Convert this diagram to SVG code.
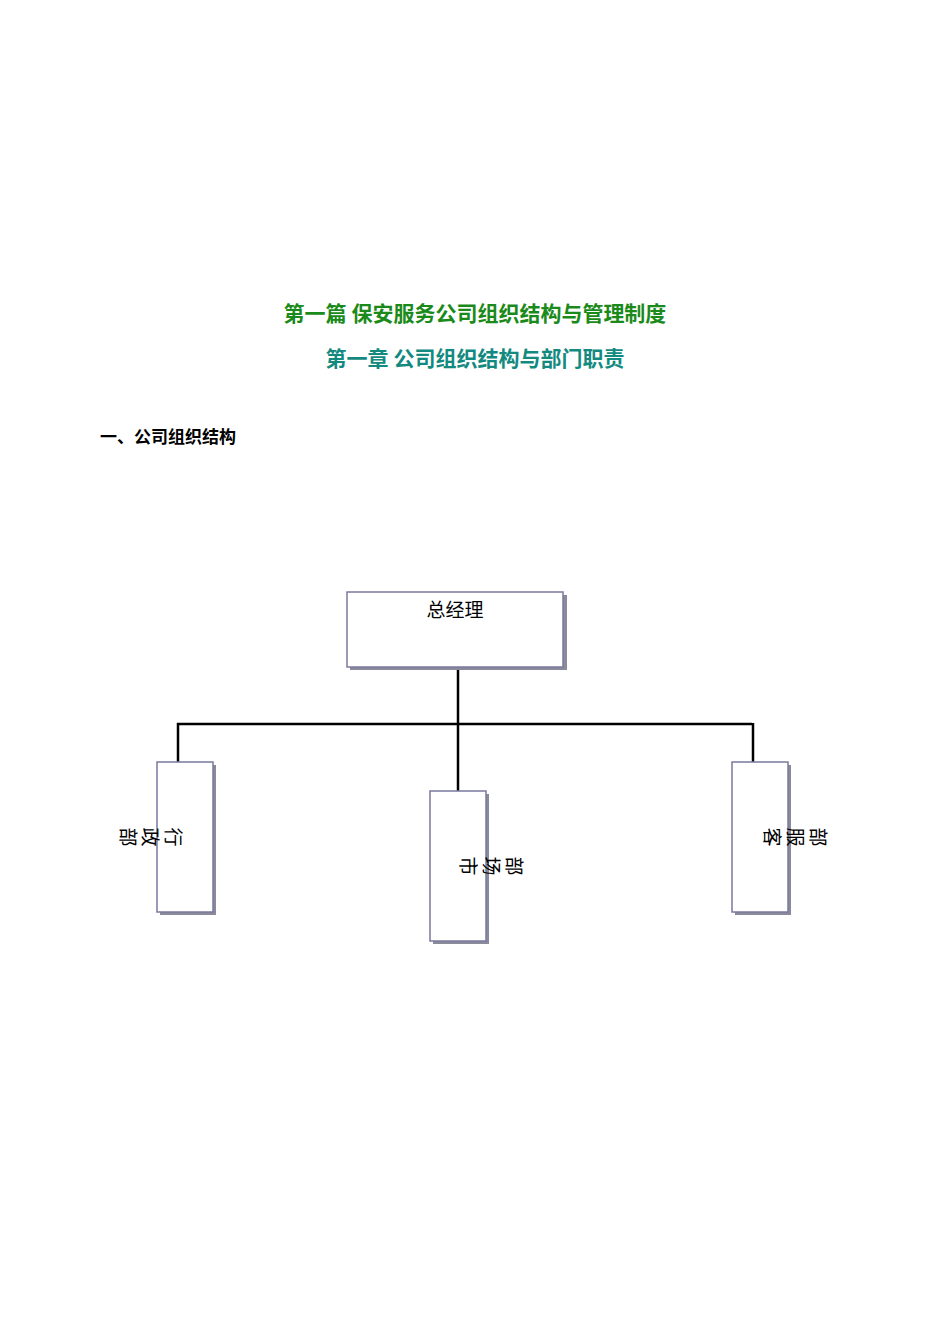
<svg xmlns="http://www.w3.org/2000/svg" width="950" height="1344" viewBox="0 0 950 1344">
<style>
.t{font-family:"Noto Sans CJK SC",sans-serif;font-weight:bold}
.box{fill:#fff;stroke:#7a7aa0;stroke-width:1.5}
.sh{fill:#8a8a9a}
.v{font-family:"Noto Sans CJK SC",sans-serif;font-size:19px;fill:#000;text-anchor:middle}
.ln{stroke:#000;stroke-width:2.5;fill:none}
</style>
<rect width="950" height="1344" fill="#fff"/>
<text class="t" x="475" y="321" font-size="21" fill="#1a8a1a" text-anchor="middle">第一篇 保安服务公司组织结构与管理制度</text>
<text class="t" x="475" y="366" font-size="21" fill="#138a80" text-anchor="middle">第一章  公司组织结构与部门职责</text>
<text class="t" x="100" y="443" font-size="17" fill="#000">一、公司组织结构</text>
<g id="connectors">
<line class="ln" x1="458" y1="655" x2="458" y2="791"/>
<line class="ln" x1="177" y1="724" x2="752" y2="724"/>
<line class="ln" x1="178" y1="723" x2="178" y2="762"/>
<line class="ln" x1="753" y1="723" x2="753" y2="762"/>
</g>
<g id="n0">
<rect class="sh" x="350" y="595" width="217" height="75"/>
<rect class="box" x="347" y="592" width="216" height="75"/>
<text x="455" y="617" font-family="Noto Sans CJK SC,sans-serif" font-size="19" text-anchor="middle">总经理</text>
</g>
<g id="n1">
<rect class="sh" x="160" y="765" width="56" height="150"/>
<rect class="box" x="157" y="762" width="56" height="150"/>
<text class="v" transform="translate(173,837) rotate(90)" y="7">行</text>
<text class="v" transform="translate(150,837) rotate(90)" y="7">政</text>
<text class="v" transform="translate(128,837) rotate(90)" y="7">部</text>
</g>
<g id="n2">
<rect class="sh" x="433" y="794" width="56" height="150"/>
<rect class="box" x="430" y="791" width="56" height="150"/>
<text class="v" transform="translate(468,866) rotate(90)" y="7">市</text>
<text class="v" transform="translate(491,866) rotate(90)" y="7">场</text>
<text class="v" transform="translate(514,866) rotate(90)" y="7">部</text>
</g>
<g id="n3">
<rect class="sh" x="735" y="765" width="56" height="150"/>
<rect class="box" x="732" y="762" width="56" height="150"/>
<text class="v" transform="translate(772,837) rotate(90)" y="7">客</text>
<text class="v" transform="translate(795,837) rotate(90)" y="7">服</text>
<text class="v" transform="translate(818,837) rotate(90)" y="7">部</text>
</g>
</svg>
